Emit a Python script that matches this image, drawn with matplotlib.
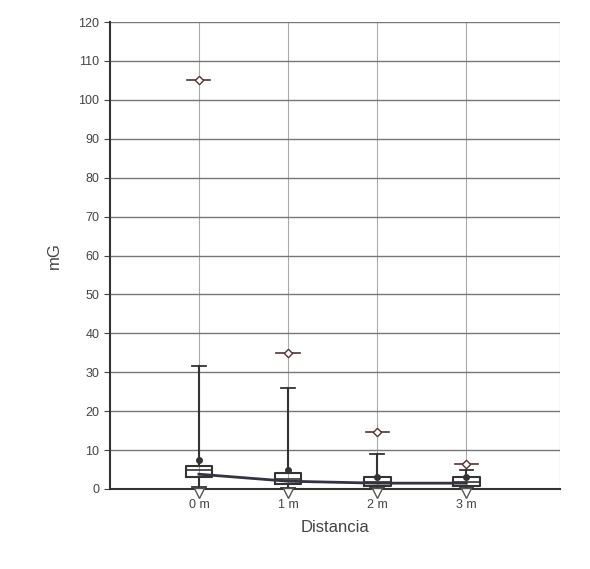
import numpy as np
import matplotlib.pyplot as plt

plt.rcParams['font.family'] = ['Liberation Sans', 'DejaVu Sans']

categories = ['0 m', '1 m', '2 m', '3 m']
q1 = [3.2, 1.2, 0.8, 0.8]
med = [4.8, 2.5, 1.8, 1.8]
q3 = [6.0, 4.0, 3.0, 3.0]
whisk_lo = [0.5, 0.3, 0.2, 0.2]
whisk_hi = [31.6, 26.0, 9.0, 5.0]
means = [3.8, 2.0, 1.5, 1.5]
dot_vals = [7.5, 5.0, 3.0, 3.0]
outliers = [105.0, 35.0, 14.6, 6.3]
minima = [-1.0, -1.0, -1.0, -1.0]

pos = np.arange(1, len(categories) + 1)

fig = plt.figure(figsize=(5.9, 5.69), dpi=100)
ax = fig.add_axes([0.186, 0.1406, 0.763, 0.8207])

stats = []
for i in range(len(categories)):
    stats.append(dict(med=med[i], q1=q1[i], q3=q3[i], whislo=whisk_lo[i],
                      whishi=whisk_hi[i], fliers=[]))
ax.bxp(stats, positions=pos, widths=0.3, showfliers=False, manage_ticks=False,
       boxprops=dict(color='#333333', linewidth=1.5),
       medianprops=dict(color='#333333', linewidth=1.2),
       whiskerprops=dict(color='#333333', linewidth=1.5),
       capprops=dict(color='#333333', linewidth=1.3))

ax.plot(pos, means, color='#333344', linewidth=2.0, zorder=5)
ax.plot(pos, dot_vals, 'o', color='#333333', markersize=4, zorder=6)
ax.plot(pos, outliers, marker=(4, 0, 0), linestyle='none', color='#553333',
        markersize=6, markerfacecolor='white', zorder=6)
for p, v in zip(pos, outliers):
    ax.plot([p - 0.13, p + 0.13], [v, v], color='#553333', linewidth=1.2, zorder=5)
ax.plot(pos, minima, 'v', color='#555555', markerfacecolor='white',
        markersize=7, clip_on=False, zorder=6)

ax.set_ylim(0, 120)
ax.set_xlim(0, 5.05)
ax.set_yticks(np.arange(0, 121, 10))
ax.set_xticks(pos)
ax.set_xticklabels(categories)
ax.grid(axis='y', color='#777777', linewidth=1.0)
for p in pos:
    ax.axvline(p, color='#aaaaaa', linewidth=0.8, zorder=0)
ax.axvline(5.05, color='#888888', linewidth=0.8, zorder=0)
ax.set_axisbelow(True)

for s in ['top', 'right']:
    ax.spines[s].set_visible(False)
ax.spines['left'].set_color('#333333')
ax.spines['bottom'].set_color('#333333')
ax.spines['left'].set_linewidth(1.5)
ax.spines['bottom'].set_linewidth(1.5)
ax.tick_params(axis='both', labelsize=9, colors='#444444', length=4)
ax.set_xlabel('Distancia', fontsize=12, color='#444444', labelpad=6)
ax.set_ylabel('mG', fontsize=12, color='#444444', labelpad=12)

fig.savefig('out.png', dpi=100)
